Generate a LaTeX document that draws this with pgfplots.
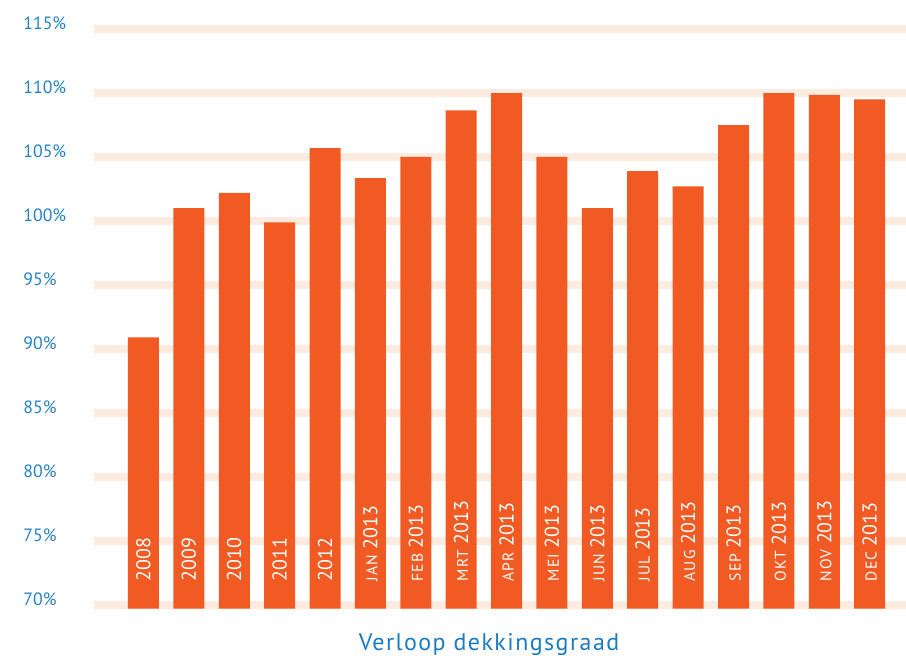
\documentclass[border=0pt]{standalone}
\usepackage{pgfplots}
\pgfplotsset{compat=1.18}
\usepackage{fontspec}
\setmainfont{PT Sans}
\newfontfamily\titlefont[LetterSpace=6]{PT Sans}
\newfontfamily\capfont[LetterSpace=8]{PT Sans}
\definecolor{barc}{HTML}{F15A22}
\definecolor{band}{HTML}{FDEBDF}
\definecolor{tblue}{HTML}{2483C5}
\definecolor{ttl}{HTML}{1B7CC2}
\DeclareRobustCommand{\m}[1]{{\capfont\fontsize{7.8}{9}\selectfont #1}}
\begin{document}
\begin{tikzpicture}
\begin{axis}[
 scale only axis, width=406pt, height=291.75pt,
 xmin=-1.09, xmax=16.8, ymin=69.7, ymax=115.3,
 axis line style={draw=none},
 major tick length=0pt,
 ymajorgrids, major grid style={line width=4pt, band},
 ytick={70,75,80,85,90,95,100,105,110,115},
 yticklabels={70\%,75\%,80\%,85\%,90\%,95\%,100\%,105\%,110\%,115\%},
 yticklabel style={anchor=west, inner sep=0pt, xshift=-35.5pt, yshift=3pt, text=tblue, font=\fontsize{8.9}{10}\selectfont},
 xtick=\empty,
 xlabel={\titlefont Verloop dekkingsgraad},
 xlabel style={at={(axis description cs:0.4865,0)}, anchor=center, yshift=-18.15pt, text=ttl, font=\fontsize{12}{14}\selectfont},
]
\addplot[ybar, bar width=15.5pt, bar shift=0pt, fill=barc, draw=none] coordinates {
(0,90.9) (1,101.0) (2,102.2) (3,99.9) (4,105.7) (5,103.35) (6,105.0) (7,108.65) (8,110.0)
(9,105.0) (10,101.0) (11,103.9) (12,102.7) (13,107.5) (14,110.0) (15,109.85) (16,109.5)
};
\addplot[draw=none, mark=none, nodes near coords, point meta=explicit symbolic,
  nodes near coords style={rotate=90, anchor=west, inner sep=0pt, text=white, font=\fontsize{10}{12}\selectfont}]
  table[col sep=comma, x=x, y=y, meta=lab] {
x,y,lab
0,71.8,2008
1,71.8,2009
2,71.8,2010
3,71.8,2011
4,71.8,2012
5,71.8,\m{JAN} 2013
6,71.8,\m{FEB} 2013
7,71.8,\m{MRT} 2013
8,71.8,\m{APR} 2013
9,71.8,\m{MEI} 2013
10,71.8,\m{JUN} 2013
11,71.8,\m{JUL} 2013
12,71.8,\m{AUG} 2013
13,71.8,\m{SEP} 2013
14,71.8,\m{OKT} 2013
15,71.8,\m{NOV} 2013
16,71.8,\m{DEC} 2013
};
\end{axis}
\pgfresetboundingbox
\useasboundingbox ([xshift=-47pt,yshift=-27.65pt]current axis.south west) rectangle ([yshift=12.6pt]current axis.north east);
\end{tikzpicture}
\end{document}
